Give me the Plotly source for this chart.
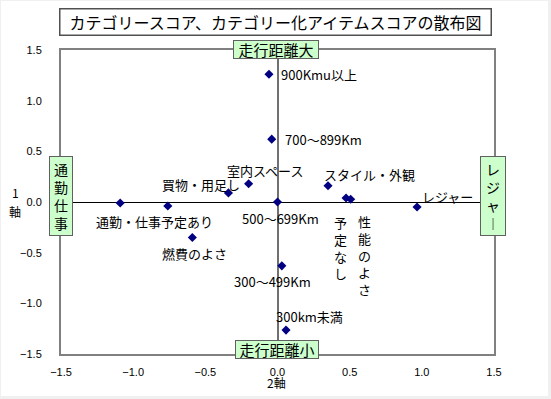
import plotly.graph_objects as go

# ---- data ----
item_labels = ["", "通勤・仕事予定あり", "買物・用足し", "室内スペース", "500～699Km",
               "燃費のよさ", "300～499Km", "スタイル・外観", "予定なし", "性能のよさ",
               "レジャー", "900Kmu以上", "700～899Km", "300km未満"]
axis2_scores = [-1.09, -0.76, -0.34, -0.20, 0.00, -0.59, 0.03, 0.35, 0.475, 0.507,
                0.967, -0.059, -0.04, 0.059]
axis1_scores = [-0.01, -0.04, 0.09, 0.18, 0.00, -0.35, -0.63, 0.16, 0.04, 0.027,
                -0.05, 1.26, 0.62, -1.264]
tick_values = [-1.5, -1.0, -0.5, 0.0, 0.5, 1.0, 1.5]

# ---- layout geometry (pixels) ----
W, H = 551, 399
L, R, T, B = 61, 494, 50, 354
PW, PH = R - L, B - T


def fx(p):
    return (p - L) / PW


def fy(q):
    return (B - q) / PH


# label placement: (dx, dy, anchor, vertical)
label_style = [
    None,
    (-13.6, 15.3, "center", False),
    (-27.2, -8.6, "center", False),
    (16, -13.2, "center", False),
    (2.7, 16.7, "center", False),
    (2.5, 16, "center", False),
    (-9.7, 15.7, "center", False),
    (41.5, -11.1, "center", False),
    (-6, 50.3, "center", True),
    (14.3, 56.5, "center", True),
    (30, -10.3, "center", False),
    (10.3, 0.4, "left", False),
    (11.6, 0.7, "left", False),
    (23.8, -13.3, "center", False),
]

JP = "Noto Sans CJK JP"

fig = go.Figure()
fig.add_trace(go.Scatter(
    x=axis2_scores, y=axis1_scores, mode="markers",
    marker=dict(symbol="diamond", size=7, color="#000080"),
    showlegend=False, hoverinfo="skip"))

ann = []
for lab, xv, yv, st in zip(item_labels, axis2_scores, axis1_scores, label_style):
    if not lab or st is None:
        continue
    dx, dy, anc, vert = st
    txt = "<br>".join(list(lab)) if vert else lab
    ann.append(dict(x=xv, y=yv, xref="x", yref="y", text=txt, showarrow=False,
                    xanchor=anc, yanchor="middle", xshift=dx, yshift=-dy,
                    font=dict(family=JP, size=13, color="black")))

box_style = dict(bgcolor="#ccffcc", bordercolor="#606060", borderwidth=1,
                 borderpad=0, showarrow=False, font=dict(family=JP, size=15, color="black"))
# top / bottom boxes
ann.append(dict(x=0, xref="x", y=fy(49.5), yref="paper", text="走行距離大",
                xanchor="center", yanchor="middle", xshift=-1.5, width=84, height=17, **box_style))
ann.append(dict(x=0, xref="x", y=fy(349.5), yref="paper", text="走行距離小",
                xanchor="center", yanchor="middle", xshift=-0.5, width=82, height=17, **box_style))
# left / right boxes
vb = dict(box_style)
vb["font"] = dict(family=JP, size=14, color="black")
ann.append(dict(x=fx(61), xref="paper", y=fy(196), yref="paper", text="通<br>勤<br>仕<br>事",
                xanchor="center", yanchor="middle", width=22, height=78, **vb))
ann.append(dict(x=fx(493), xref="paper", y=fy(196), yref="paper", text="レ<br>ジ<br>ャ<br>︱",
                xanchor="center", yanchor="middle", width=24, height=78, **vb))

# title
ann.append(dict(x=fx(275), xref="paper", y=fy(22), yref="paper",
                text="カテゴリースコア、カテゴリー化アイテムスコアの散布図",
                showarrow=False, xanchor="center", yanchor="middle",
                width=430, height=25, borderpad=0, bgcolor="white",
                bordercolor="#505050", borderwidth=1.5,
                font=dict(family=JP, size=16, color="black")))

# axis titles
t_font = dict(family=JP, size=12, color="black")
ann.append(dict(x=fx(15), xref="paper", y=fy(192), yref="paper", text="1", showarrow=False,
                xanchor="center", yanchor="middle", font=t_font))
ann.append(dict(x=fx(15), xref="paper", y=fy(211), yref="paper", text="軸", showarrow=False,
                xanchor="center", yanchor="middle", font=t_font))
ann.append(dict(x=fx(276), xref="paper", y=fy(382), yref="paper", text="2軸", showarrow=False,
                xanchor="center", yanchor="middle", font=t_font))

shapes = [
    dict(type="rect", xref="paper", yref="paper", x0=fx(1), x1=fx(548), y0=fy(396), y1=fy(1),
         fillcolor="white", line=dict(width=0), layer="below"),
]

axis_common = dict(range=[-1.5, 1.5], tickvals=tick_values, tickformat=".1f",
                   showgrid=False, ticks="outside", tickcolor="rgba(0,0,0,0)",
                   showline=True, mirror=True,
                   linecolor="#808080", linewidth=2,
                   tickfont=dict(family="Liberation Sans", size=11, color="black"))

fig.update_layout(
    width=W, height=H,
    margin=dict(l=L, r=W - R, t=T, b=H - B, pad=0),
    paper_bgcolor="#f0f0f0", plot_bgcolor="white",
    xaxis=dict(**axis_common, zeroline=True, zerolinecolor="#707070", zerolinewidth=1.5,
               ticklen=7),
    yaxis=dict(**axis_common, zeroline=True, zerolinecolor="black", zerolinewidth=1.2,
               ticklen=15),
    annotations=ann, shapes=shapes, showlegend=False,
)

fig.write_html("out.html", config={"displayModeBar": False},
               post_script="document.body.style.margin='0';")
